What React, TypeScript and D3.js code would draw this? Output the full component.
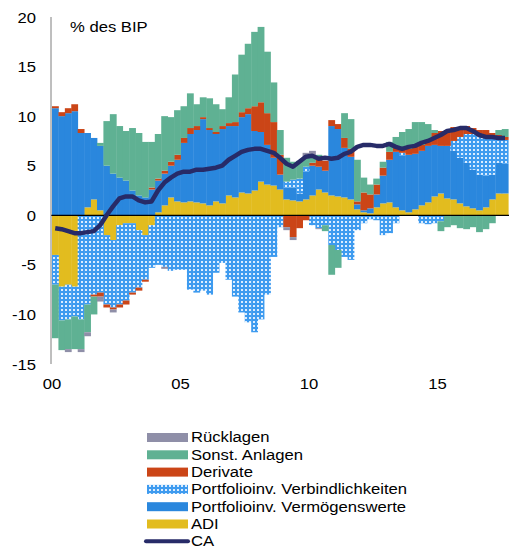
import React, { useEffect, useRef } from 'react';
import * as d3 from 'd3';

// quarterly, 2000Q1 .. 2017Q3, % of GDP
const adi = [-4.0, -7.2, -7.0, -7.2, 0, 0.8, 1.6, 0.5, -2.0, -2.5, -1.0, -0.8, -0.8, -1.5, -2.0, -1.0,
  0.3, 1.0, 1.8, 1.4, 1.3, 1.4, 1.3, 1.2, 1.0, 1.4, 1.2, 2.0, 1.8, 2.3, 2.2, 2.5,
  3.4, 3.1, 3.0, 2.6, 1.6, 1.5, 1.4, 1.6, 2.0, 2.6, 2.3, 2.0, 1.9, 1.8, 1.6, 0.6,
  0.3, 0.2, 0.8, 1.2, 1.3, 0.8, 0.5, 0.3, 0.6, 1.0, 1.3, 1.9, 2.2, 1.7, 1.6, 1.2,
  0.9, 0.7, 0.5, 0.8, 1.6, 2.2, 2.2];
const pfAssets = [10.8, 10.0, 10.3, 10.5, 8.3, 7.5, 6.2, 6.5, 5.0, 4.2, 3.8, 3.5, 2.5, 2.0, 1.8, 2.6,
  3.2, 3.2, 3.2, 4.2, 6.0, 6.8, 7.3, 8.5, 7.6, 6.8, 7.5, 7.0, 7.2, 7.6, 8.0, 6.0,
  5.0, 4.0, 2.8, 1.5, 1.2, 1.3, 0.8, 2.8, 3.0, 2.3, 2.2, 7.0, 6.8, 5.0, 4.3, 0.5,
  0.2, 0.5, 1.3, 2.8, 4.3, 5.6, 5.5, 5.8, 5.6, 5.5, 5.7, 5.2, 4.8, 5.3, 4.9, 4.6,
  4.4, 3.9, 3.6, 3.2, 2.5, 3.1, 3.0];
const pfLiab = [-3.0, -3.4, -3.5, -3.0, -10.5, -9.0, -8.0, -7.8, -7.0, -6.8, -8.0, -7.8, -7.0, -5.8, -4.5, -4.3,
  -5.0, -5.2, -5.6, -5.5, -5.5, -7.5, -7.8, -7.6, -8.0, -5.8, -4.8, -6.5, -8.2, -9.8, -10.8, -11.8,
  -10.5, -8.0, -4.2, -1.2, 0.6, 0.8, 1.5, 0.5, -1.0, -1.3, -1.0, -3.0, -3.5, -4.2, -4.5, -1.5,
  -0.8, -0.4, -0.5, -2.0, -1.8, -0.8, 0.3, 0, 0, -0.8, -0.9, -0.8, -0.6, 0, 1.0, 2.1,
  2.9, 3.6, 3.9, 4.0, 3.6, 2.4, 2.4];
const derivate = [0.2, 0.4, 0.5, 0.7, 0.4, 0, -0.2, -0.4, -0.3, -0.2, -0.3, -0.4, -0.2, -0.3, -0.2, 0.2,
  0.2, 0.3, 0.4, 0.5, 0.5, 0.6, 0.4, 0.2, 0.2, 0.2, 0.3, 0.3, 0.4, 0.5, 0.6, 2.5,
  3.0, 3.2, 3.6, 2.0, -1.2, -2.2, -1.3, -0.5, 0.3, 0.8, 1.0, 0.6, 0.5, 1.0, 0.8, 0.3,
  1.8, 1.4, 1.0, 0.8, 0.8, 0.5, 0.5, 0.6, 0.8, 0.6, 0.5, 1.2, 1.5, 1.5, 1.4, 1.0,
  0.8, 0.6, 0.6, 0.6, 0.6, 0.4, 0.3];
const sonst = [-5.4, -3.0, -3.0, -3.3, -3.0, -2.8, -1.8, 0.3, 4.5, 6.0, 5.2, 5.0, 6.3, 6.3, 5.6, 4.6,
  4.5, 5.5, 4.5, 4.5, 3.2, 3.5, 2.2, 2.0, 3.0, 2.8, 1.7, 2.6, 4.8, 5.8, 6.5, 7.5,
  7.6, 6.2, 4.0, 2.5, 2.4, 1.8, 1.8, 1.0, 0.6, 0.4, -0.6, -3.0, -1.8, 2.5, 3.0, 4.2,
  1.5, 1.0, 0.6, 0.6, 1.0, 1.0, 1.6, 2.0, 2.4, 2.3, 1.7, 0.3, -1.0, -1.2, -1.0, -1.3,
  -1.4, -1.2, -1.7, -1.4, -0.8, 0.5, 0.8];
const ruecklagen = [0, 0, -0.3, 0, -0.3, -0.4, 0, -0.5, 0, -0.3, 0, 0, 0, 0, 0, 0,
  0, -0.2, 0, 0, 0, 0, 0, 0, 0, 0, 0, 0, 0, 0, 0, 0,
  0, 0, 0, 0, -0.3, -0.3, 0, 0.4, 0.6, -0.1, 0, 0, 0, 0, 0, 0,
  0, 0, 0, 0, 0, 0, 0, 0, 0, 0, 0, 0, 0, 0, 0, 0,
  0, 0, 0, 0, 0, 0, 0];
const ca = [-1.3, -1.4, -1.6, -1.8, -1.8, -1.7, -1.6, -1.0, 0.0, 0.9, 1.7, 1.9, 1.9, 1.5, 1.3, 1.4,
  2.5, 3.3, 3.8, 4.2, 4.4, 4.4, 4.6, 4.6, 4.7, 4.8, 5.0, 5.6, 6.0, 6.4, 6.6, 6.7,
  6.7, 6.5, 6.3, 5.8, 5.2, 4.9, 5.4, 5.9, 6.0, 5.7, 5.8, 5.7, 5.8, 6.2, 6.4, 6.9,
  7.1, 7.1, 7.0, 7.0, 7.2, 6.9, 6.7, 6.9, 7.0, 7.3, 7.5, 7.8, 8.1, 8.5, 8.6, 8.8,
  8.8, 8.5, 8.1, 7.9, 7.9, 7.8, 7.8];

const yTicks = [20, 15, 10, 5, 0, -5, -10, -15];
const xTickYears = [2000, 2005, 2010, 2015];
const xTickLabels = ['00', '05', '10', '15'];

const keys = ['adi', 'pfAssets', 'pfLiab', 'derivate', 'sonst', 'ruecklagen'];
const colors: any = {
  ruecklagen: '#8f8fa8',
  sonst: '#5fb193',
  derivate: '#cb4517',
  pfLiab: 'url(#dots)',
  pfAssets: '#2a87dd',
  adi: '#e2bc1f',
};
const legendItems = [
  ['ruecklagen', 'Rücklagen'],
  ['sonst', 'Sonst. Anlagen'],
  ['derivate', 'Derivate'],
  ['pfLiab', 'Portfolioinv. Verbindlichkeiten'],
  ['pfAssets', 'Portfolioinv. Vermögenswerte'],
  ['adi', 'ADI'],
  ['ca', 'CA'],
];

export default function App() {
  const ref = useRef<SVGSVGElement>(null);

  useEffect(() => {
    const svg = d3.select(ref.current);
    svg.selectAll('*').remove();
    const font = '"Liberation Sans", Arial, sans-serif';
    const sx = 1.11; // text in the original is a bit wide

    // helper: text stretched horizontally, anchored at (px, py)
    const txt = (g: any, px: number, py: number, s: any, anchor = 'start') =>
      g.append('text')
        .attr('transform', 'translate(' + px + ',' + py + ') scale(' + sx + ',1)')
        .attr('text-anchor', anchor)
        .attr('font-family', font).attr('font-size', 15).attr('fill', '#000')
        .text(s);

    const rows = adi.map((_, i) => ({
      year: 2000 + i * 0.25,
      adi: adi[i], pfAssets: pfAssets[i], pfLiab: pfLiab[i],
      derivate: derivate[i], sonst: sonst[i], ruecklagen: ruecklagen[i],
    }));

    const x = d3.scaleLinear().domain([2000, 2017.75]).range([52, 508.2]);
    const y = d3.scaleLinear().domain([-15, 20]).range([364, 17]);

    const defs = svg.append('defs');
    const pat = defs.append('pattern').attr('id', 'dots')
      .attr('width', 4).attr('height', 4).attr('patternUnits', 'userSpaceOnUse');
    pat.append('rect').attr('width', 4).attr('height', 4).attr('fill', '#3e9bef');
    pat.append('rect').attr('x', 1).attr('y', 1).attr('width', 2).attr('height', 2).attr('fill', '#dcedff');

    const series = d3.stack<any>().keys(keys).offset(d3.stackOffsetDiverging)(rows);

    const w = x(2000.25) - x(2000);
    series.forEach(s => {
      svg.append('g').selectAll('rect').data(s).enter().append('rect')
        .attr('x', (d: any) => x(d.data.year))
        .attr('width', w + 0.4)
        .attr('y', (d: any) => y(Math.max(d[0], d[1])))
        .attr('height', (d: any) => Math.abs(y(d[0]) - y(d[1])))
        .attr('fill', colors[s.key]);
    });

    // zero line + y axis line
    svg.append('line').attr('x1', 51).attr('x2', 509).attr('y1', y(0)).attr('y2', y(0))
      .attr('stroke', '#000').attr('stroke-width', 1.2);
    svg.append('line').attr('x1', 51).attr('x2', 51).attr('y1', y(20)).attr('y2', y(-15))
      .attr('stroke', '#7f7f7f').attr('stroke-width', 1);

    const line = d3.line<number>()
      .x((d, i) => x(2000.125 + i * 0.25))
      .y(d => y(d));
    svg.append('path').datum(ca).attr('d', line).attr('fill', 'none')
      .attr('stroke', '#272b68').attr('stroke-width', 4.5).attr('stroke-linejoin', 'round');

    const ya = svg.append('g');
    yTicks.forEach(t => txt(ya, 36, y(t) + 5.5, t, 'end'));

    const xa = svg.append('g');
    xTickYears.forEach((t, i) => txt(xa, x(t), 389, xTickLabels[i], 'middle'));

    txt(svg, 70, 32, '% des BIP');

    const lg = svg.append('g');
    legendItems.forEach((it, i) => {
      const cy = 437.5 + i * 17.3;
      if (it[0] === 'ca') {
        lg.append('line').attr('x1', 146).attr('x2', 188).attr('y1', cy).attr('y2', cy)
          .attr('stroke', '#272b68').attr('stroke-width', 4).attr('stroke-linecap', 'round');
      } else {
        lg.append('rect').attr('x', 147).attr('y', cy - 4.5).attr('width', 41).attr('height', 9)
          .attr('fill', colors[it[0]]);
      }
      txt(lg, 191, cy + 4.8, it[1]);
    });
  }, []);

  return (
    <svg ref={ref} width={509} height={549}
      style={{ position: 'absolute', left: 0, top: 0, background: '#fff' }} />
  );
}
